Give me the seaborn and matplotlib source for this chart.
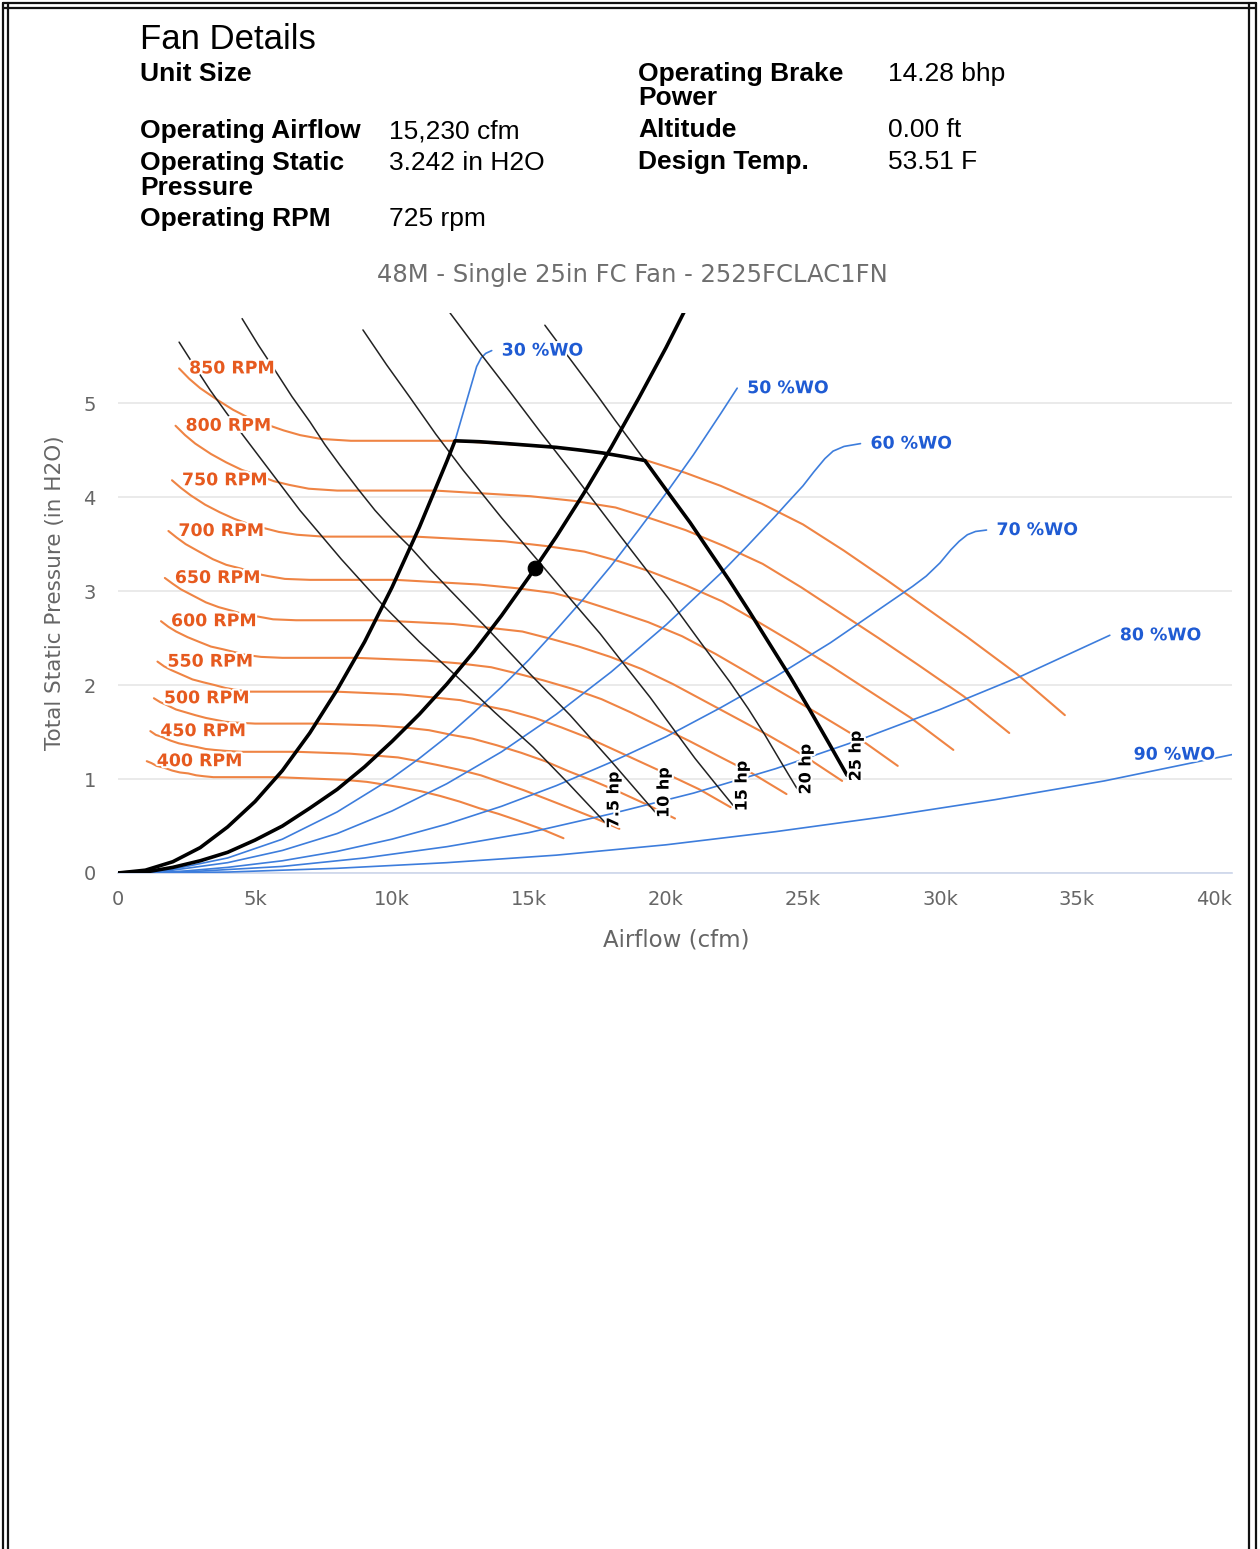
import matplotlib
matplotlib.use('Agg')
import matplotlib.pyplot as plt
import matplotlib.patheffects as pe
from matplotlib.lines import Line2D
import seaborn as sns

W, H = 1260, 1549

# airflow in thousand cfm, pressure in in H2O
rpm_names = ['400 RPM', '450 RPM', '500 RPM', '550 RPM', '600 RPM',
             '650 RPM', '700 RPM', '750 RPM', '800 RPM', '850 RPM']

q_400 = [1.05, 1.22, 1.41, 1.69, 1.98, 2.26, 2.56, 2.85, 3.13, 3.48, 4.00, 5.79, 7.53, 8.33, 9.08, 9.74, 10.35, 11.06, 11.76, 12.47, 13.18, 13.88, 14.59, 15.44, 16.26]
p_400 = [1.19, 1.17, 1.14, 1.12, 1.09, 1.07, 1.06, 1.04, 1.03, 1.02, 1.02, 1.02, 1.00, 0.99, 0.97, 0.94, 0.91, 0.87, 0.82, 0.76, 0.69, 0.63, 0.56, 0.47, 0.37]
q_450 = [1.18, 1.38, 1.59, 1.91, 2.22, 2.54, 2.89, 3.20, 3.52, 3.92, 4.50, 6.51, 8.47, 9.37, 10.22, 10.96, 11.65, 12.44, 13.24, 14.03, 14.82, 15.62, 16.41, 17.36, 18.30]
p_450 = [1.51, 1.47, 1.45, 1.41, 1.38, 1.36, 1.34, 1.32, 1.31, 1.30, 1.29, 1.29, 1.27, 1.25, 1.23, 1.19, 1.15, 1.10, 1.04, 0.96, 0.88, 0.79, 0.70, 0.59, 0.47]
q_500 = [1.31, 1.53, 1.76, 2.12, 2.47, 2.82, 3.21, 3.56, 3.91, 4.35, 5.00, 7.24, 9.41, 10.41, 11.35, 12.18, 12.94, 13.82, 14.71, 15.59, 16.47, 17.35, 18.24, 19.29, 20.33]
p_500 = [1.86, 1.82, 1.79, 1.74, 1.71, 1.68, 1.65, 1.63, 1.61, 1.60, 1.59, 1.59, 1.57, 1.55, 1.52, 1.47, 1.43, 1.36, 1.28, 1.19, 1.08, 0.98, 0.87, 0.73, 0.58]
q_550 = [1.44, 1.68, 1.94, 2.33, 2.72, 3.11, 3.53, 3.91, 4.30, 4.79, 5.50, 7.96, 10.35, 11.45, 12.49, 13.39, 14.24, 15.21, 16.18, 17.15, 18.12, 19.09, 20.06, 21.22, 22.36]
p_550 = [2.25, 2.20, 2.16, 2.11, 2.06, 2.03, 2.00, 1.97, 1.95, 1.93, 1.93, 1.93, 1.90, 1.87, 1.84, 1.78, 1.73, 1.65, 1.55, 1.44, 1.31, 1.18, 1.05, 0.89, 0.70]
q_600 = [1.57, 1.84, 2.12, 2.54, 2.96, 3.39, 3.85, 4.27, 4.69, 5.22, 6.00, 8.68, 11.29, 12.49, 13.62, 14.61, 15.53, 16.59, 17.65, 18.71, 19.76, 20.82, 21.88, 23.15, 24.40]
p_600 = [2.68, 2.62, 2.57, 2.51, 2.46, 2.41, 2.38, 2.35, 2.32, 2.30, 2.29, 2.29, 2.26, 2.23, 2.19, 2.12, 2.05, 1.96, 1.85, 1.71, 1.56, 1.41, 1.25, 1.06, 0.84]
q_650 = [1.71, 1.99, 2.29, 2.75, 3.21, 3.67, 4.17, 4.63, 5.09, 5.66, 6.50, 9.41, 12.24, 13.54, 14.76, 15.83, 16.82, 17.97, 19.12, 20.26, 21.41, 22.56, 23.71, 25.08, 26.43]
p_650 = [3.14, 3.08, 3.02, 2.95, 2.88, 2.83, 2.79, 2.75, 2.73, 2.70, 2.69, 2.69, 2.65, 2.61, 2.57, 2.49, 2.41, 2.30, 2.17, 2.01, 1.83, 1.65, 1.47, 1.24, 0.98]
q_700 = [1.84, 2.14, 2.47, 2.96, 3.46, 3.95, 4.49, 4.98, 5.48, 6.09, 7.00, 10.13, 13.18, 14.58, 15.89, 17.05, 18.12, 19.35, 20.59, 21.82, 23.06, 24.29, 25.53, 27.01, 28.46]
p_700 = [3.64, 3.57, 3.50, 3.42, 3.34, 3.28, 3.24, 3.19, 3.16, 3.13, 3.12, 3.12, 3.07, 3.03, 2.98, 2.89, 2.79, 2.67, 2.52, 2.33, 2.12, 1.91, 1.70, 1.44, 1.14]
q_750 = [1.97, 2.29, 2.65, 3.18, 3.71, 4.24, 4.81, 5.34, 5.87, 6.53, 7.50, 10.85, 14.12, 15.62, 17.03, 18.26, 19.41, 20.74, 22.06, 23.38, 24.71, 26.03, 27.35, 28.94, 30.49]
p_750 = [4.18, 4.10, 4.02, 3.92, 3.84, 3.77, 3.71, 3.67, 3.63, 3.60, 3.58, 3.58, 3.53, 3.48, 3.42, 3.32, 3.21, 3.06, 2.89, 2.67, 2.44, 2.20, 1.95, 1.65, 1.31]
q_800 = [2.10, 2.45, 2.82, 3.39, 3.95, 4.52, 5.13, 5.69, 6.26, 6.96, 8.00, 11.58, 15.06, 16.66, 18.16, 19.48, 20.71, 22.12, 23.53, 24.94, 26.35, 27.76, 29.18, 30.87, 32.53]
p_800 = [4.76, 4.66, 4.57, 4.46, 4.37, 4.29, 4.23, 4.17, 4.13, 4.09, 4.07, 4.07, 4.01, 3.96, 3.89, 3.77, 3.65, 3.48, 3.29, 3.04, 2.77, 2.50, 2.22, 1.88, 1.49]
q_850 = [2.23, 2.60, 3.00, 3.60, 4.20, 4.80, 5.45, 6.05, 6.65, 7.40, 8.50, 12.30, 16.00, 17.70, 19.30, 20.70, 22.00, 23.50, 25.00, 26.50, 28.00, 29.50, 31.00, 32.80, 34.56]
p_850 = [5.37, 5.26, 5.16, 5.04, 4.93, 4.84, 4.77, 4.71, 4.66, 4.62, 4.60, 4.60, 4.53, 4.47, 4.39, 4.26, 4.12, 3.93, 3.71, 3.43, 3.13, 2.82, 2.51, 2.12, 1.68]

hp_names = ['7.5 hp', '10 hp', '15 hp', '20 hp', '25 hp']
q_7_5hp = [2.23, 2.80, 3.36, 3.95, 4.56, 5.60, 6.64, 8.15, 9.67, 11.00, 12.37, 13.75, 15.15, 16.45, 17.77]
p_7_5hp = [5.65, 5.39, 5.14, 4.90, 4.66, 4.26, 3.86, 3.34, 2.85, 2.46, 2.09, 1.71, 1.34, 0.95, 0.54]
q_10hp = [4.53, 5.12, 5.73, 6.35, 7.01, 7.55, 8.10, 8.75, 9.38, 10.00, 10.66, 11.40, 12.12, 12.85, 13.58, 15.00, 16.50, 18.00, 19.60]
p_10hp = [5.90, 5.62, 5.35, 5.07, 4.80, 4.56, 4.34, 4.09, 3.86, 3.66, 3.47, 3.23, 3.01, 2.79, 2.57, 2.13, 1.68, 1.19, 0.65]
q_15hp = [8.94, 9.80, 10.66, 11.60, 12.59, 14.00, 15.40, 16.50, 17.59, 18.50, 19.42, 20.25, 21.06, 21.75, 22.45]
p_15hp = [5.78, 5.41, 5.06, 4.67, 4.29, 3.78, 3.30, 2.92, 2.55, 2.21, 1.87, 1.54, 1.22, 0.97, 0.72]
q_20hp = [12.12, 13.20, 14.31, 15.40, 16.50, 18.30, 20.15, 21.25, 22.34, 23.00, 23.61, 24.20, 24.78]
p_20hp = [5.96, 5.54, 5.12, 4.70, 4.29, 3.60, 2.90, 2.46, 2.03, 1.75, 1.47, 1.18, 0.90]
q_25hp = [15.58, 16.22, 16.86, 17.50, 18.14, 18.70, 19.23, 20.05, 20.88, 21.60, 22.30, 23.05, 23.80, 24.55, 25.26, 25.95, 26.61]
p_25hp = [5.83, 5.58, 5.33, 5.08, 4.82, 4.60, 4.39, 4.06, 3.73, 3.42, 3.12, 2.78, 2.43, 2.08, 1.73, 1.38, 1.04]

wo_names = ['30 %WO', '50 %WO', '60 %WO', '70 %WO', '80 %WO', '90 %WO']
q_wo30 = [0, 1, 2, 3, 4, 5, 6, 7, 8, 9, 10, 11, 12, 12.3, 12.73, 13.09, 13.25, 13.42, 13.64]
p_wo30 = [0, 0.03, 0.12, 0.27, 0.49, 0.76, 1.09, 1.49, 1.95, 2.46, 3.04, 3.68, 4.38, 4.60, 5.03, 5.39, 5.48, 5.53, 5.56]
q_wo50 = [0, 2, 4, 6, 8, 10, 11, 12, 13, 14, 15, 16, 17, 18, 19, 20, 21, 22, 22.6]
p_wo50 = [0, 0.04, 0.16, 0.36, 0.65, 1.01, 1.22, 1.45, 1.71, 1.98, 2.27, 2.59, 2.92, 3.27, 3.65, 4.04, 4.45, 4.89, 5.16]
q_wo60 = [0, 2, 4, 6, 8, 10, 12, 14, 16, 18, 20, 22, 23, 24, 24.4, 25.0, 25.4, 25.8, 26.1, 26.5, 27.1]
p_wo60 = [0, 0.03, 0.11, 0.24, 0.42, 0.66, 0.95, 1.29, 1.69, 2.14, 2.64, 3.19, 3.49, 3.80, 3.93, 4.12, 4.27, 4.41, 4.49, 4.54, 4.57]
q_wo70 = [0, 2, 4, 6, 8, 10, 12, 14, 16, 18, 20, 22, 24, 26, 28, 29.0, 29.5, 30.0, 30.4, 30.7, 31.0, 31.3, 31.7]
p_wo70 = [0, 0.01, 0.06, 0.13, 0.23, 0.36, 0.52, 0.71, 0.93, 1.18, 1.45, 1.76, 2.09, 2.45, 2.85, 3.05, 3.16, 3.30, 3.44, 3.53, 3.60, 3.635, 3.65]
q_wo80 = [0, 3, 6, 9, 12, 15, 18, 21, 24, 27, 30, 33, 36.2]
p_wo80 = [0, 0.02, 0.07, 0.16, 0.28, 0.43, 0.63, 0.85, 1.11, 1.41, 1.74, 2.10, 2.53]
q_wo90 = [0, 4, 8, 12, 16, 20, 24, 28, 32, 36, 40.66]
p_wo90 = [0, 0.01, 0.05, 0.11, 0.19, 0.30, 0.44, 0.60, 0.78, 0.98, 1.26]

# system curve through the operating point
q_sys = [0, 1, 2, 3, 4, 5, 6, 7, 8, 9, 10, 11, 12, 13, 14, 15, 16, 17, 18, 19, 20, 20.73]
p_sys = [0, 0.01, 0.06, 0.13, 0.22, 0.35, 0.50, 0.69, 0.89, 1.13, 1.40, 1.69, 2.01, 2.36, 2.74, 3.15, 3.58, 4.04, 4.53, 5.05, 5.59, 6.01]

# operating envelope: surge line, 850 rpm top, 25 hp limit
q_env = [0, 1, 2, 3, 4, 5, 6, 7, 8, 9, 10, 11, 12, 12.3, 13.2, 14.2, 15.1, 16.0, 16.9, 17.7, 18.5, 19.23,
         20.05, 20.88, 21.60, 22.30, 23.05, 23.80, 24.55, 25.26, 25.95, 26.61]
p_env = [0, 0.03, 0.12, 0.27, 0.49, 0.76, 1.09, 1.49, 1.95, 2.46, 3.04, 3.68, 4.38, 4.60, 4.59, 4.57, 4.55, 4.53, 4.50, 4.47, 4.43, 4.39,
         4.06, 3.73, 3.42, 3.12, 2.78, 2.43, 2.08, 1.73, 1.38, 1.04]

op_q = [15.23]
op_p = [3.242]

x_ticks = [0, 5, 10, 15, 20, 25, 30, 35, 40]
x_tick_labels = ['0', '5k', '10k', '15k', '20k', '25k', '30k', '35k', '40k']
y_ticks = [0, 1, 2, 3, 4, 5]

# header rows: (text, baseline y in pixels)
left_labels = [('Unit Size', 81), ('Operating Airflow', 138), ('Operating Static', 170),
               ('Pressure', 195), ('Operating RPM', 226)]
left_values = [('15,230 cfm', 138), ('3.242 in H2O', 170), ('725 rpm', 226)]
right_labels = [('Operating Brake', 81), ('Power', 105), ('Altitude', 137), ('Design Temp.', 169)]
right_values = [('14.28 bhp', 81), ('0.00 ft', 137), ('53.51 F', 169)]

ORANGE = '#ef8444'
ORANGE_TXT = '#e65a1f'
BLUE = '#3d7ddc'
BLUE_TXT = '#1f5bd3'
GRAY = '#666666'

sns.set_theme(style='white')
plt.rcParams['font.family'] = ['DejaVu Sans']

fig = plt.figure(figsize=(W / 100, H / 100), dpi=100)
ax = fig.add_axes([118 / W, 1 - 873 / H, (1232 - 118) / W, (873 - 313) / H])

halo = [pe.withStroke(linewidth=3, foreground='white')]

rpm_curves = [(q_400, p_400), (q_450, p_450), (q_500, p_500), (q_550, p_550), (q_600, p_600),
              (q_650, p_650), (q_700, p_700), (q_750, p_750), (q_800, p_800), (q_850, p_850)]
for name, (q, p) in zip(rpm_names, rpm_curves):
    sns.lineplot(x=q, y=p, ax=ax, color=ORANGE, lw=1.5, sort=False, estimator=None, zorder=2)
    ax.annotate(name, (q[0], p[0]), xytext=(10, 0), textcoords='offset pixels', color=ORANGE_TXT,
                fontsize=12.5, fontweight='bold', ha='left', va='center', path_effects=halo, zorder=8)

wo_curves = [(q_wo30, p_wo30), (q_wo50, p_wo50), (q_wo60, p_wo60), (q_wo70, p_wo70),
             (q_wo80, p_wo80), (q_wo90, p_wo90)]
for i, (name, (q, p)) in enumerate(zip(wo_names, wo_curves)):
    sns.lineplot(x=q, y=p, ax=ax, color=BLUE, lw=1.2, sort=False, estimator=None, zorder=3)
    if i == len(wo_names) - 1:
        off, ha = (-17, 0), 'right'
    else:
        off, ha = (10, 0), 'left'
    ax.annotate(name, (q[-1], p[-1]), xytext=off, textcoords='offset pixels', color=BLUE_TXT,
                fontsize=12.5, fontweight='bold', ha=ha, va='center', path_effects=halo, zorder=8)

hp_curves = [(q_7_5hp, p_7_5hp), (q_10hp, p_10hp), (q_15hp, p_15hp), (q_20hp, p_20hp), (q_25hp, p_25hp)]
for name, (q, p) in zip(hp_names, hp_curves):
    sns.lineplot(x=q, y=p, ax=ax, color='#222222', lw=1.1, sort=False, estimator=None, zorder=4)
    ax.annotate(name, (q[-1], p[-1]), xytext=(9, -6), textcoords='offset pixels', color='black',
                fontsize=11.5, fontweight='bold', rotation=90, rotation_mode='anchor',
                ha='left', va='center', path_effects=halo, zorder=8)

sns.lineplot(x=q_sys, y=p_sys, ax=ax, color='black', lw=2.6, sort=False, estimator=None, zorder=5)
sns.lineplot(x=q_env, y=p_env, ax=ax, color='black', lw=2.6, sort=False, estimator=None, zorder=5)
sns.scatterplot(x=op_q, y=op_p, ax=ax, color='black', s=110, edgecolor='black', zorder=6)

ax.set_xlim(0, 40.66)
ax.set_ylim(0, 5.96)
ax.set_xticks(x_ticks)
ax.set_xticklabels(x_tick_labels)
ax.set_yticks(y_ticks)
ax.yaxis.grid(True, color='#e6e6e6', lw=1.2)
ax.xaxis.grid(False)
for s in ['left', 'top', 'right']:
    ax.spines[s].set_visible(False)
ax.spines['bottom'].set_color('#ccd6eb')
ax.spines['bottom'].set_linewidth(1.2)
ax.tick_params(axis='x', length=7.5, width=1, color='#ccd6eb', labelcolor=GRAY, labelsize=14, pad=5)
ax.tick_params(axis='y', length=0, labelcolor=GRAY, labelsize=14, pad=16)
ax.set_xlabel('Airflow (cfm)', color=GRAY, fontsize=16.5)
ax.set_ylabel('Total Static Pressure (in H2O)', color=GRAY, fontsize=15.5)
ax.xaxis.set_label_coords((676 - 118) / (1232 - 118), -(940 - 873) / (873 - 313))
ax.yaxis.set_label_coords(-(118 - 55) / (1232 - 118), 0.5)
ax.xaxis.label.set_va('center')
ax.yaxis.label.set_va('center')

fig.text(632 / W, 1 - 275 / H, '48M - Single 25in FC Fan - 2525FCLAC1FN', color='#6e6e6e',
         fontsize=17.5, ha='center', va='center')

# header block
hdr = ['Liberation Sans', 'DejaVu Sans']
fig.text(140 / W, 1 - 49 / H, 'Fan Details', family=hdr, fontsize=25, color='black', va='baseline')
for text, y in left_labels:
    fig.text(140 / W, 1 - y / H, text, family=hdr, fontsize=19, fontweight='bold', va='baseline', color='black')
for text, y in left_values:
    fig.text(389 / W, 1 - y / H, text, family=hdr, fontsize=19, va='baseline', color='black')
for text, y in right_labels:
    fig.text(638 / W, 1 - y / H, text, family=hdr, fontsize=19, fontweight='bold', va='baseline', color='black')
for text, y in right_values:
    fig.text(888 / W, 1 - y / H, text, family=hdr, fontsize=19, va='baseline', color='black')

# page frame
for x in [3, 8, 1249, 1256]:
    fig.add_artist(Line2D([x / W, x / W], [0, 1 - 3 / H], color='#111111', lw=1.6))
for y in [3, 8]:
    fig.add_artist(Line2D([3 / W, 1256 / W], [1 - y / H, 1 - y / H], color='#111111', lw=1.6))

fig.savefig('out.png', dpi=100)
